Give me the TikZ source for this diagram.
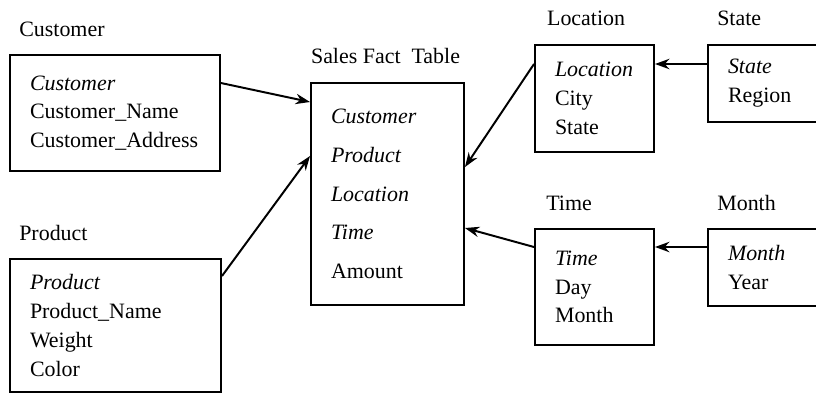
\documentclass[tikz,border=0pt]{standalone}
\usepackage{fontspec}
\setmainfont{Liberation Serif}
\usetikzlibrary{arrows.meta,calc}

\begin{document}
\begin{tikzpicture}[font=\fontsize{15.6}{20.5}\selectfont,
    tbl/.style={draw, line width=1.4pt, inner xsep=0.5cm, inner ysep=0pt, align=left},
    ttl/.style={anchor=base west, inner sep=0pt},
    lnk/.style={-{Stealth[length=3.6mm,width=2.6mm]}, line width=1.4pt}]
  \useasboundingbox (0,0) rectangle (20.4,-9.825);

  % fact table
  \node[tbl, text width=2.825cm, minimum height=5.55cm, font=\fontsize{15.6}{27.6}\selectfont] (fact) at (9.6875,-4.85)
    {\textit{Customer}\\\textit{Product}\\\textit{Location}\\\textit{Time}\\Amount};
  \node[anchor=base, inner sep=0pt] (factT) at ($(fact.north)+(-0.05,0.475)$) {Sales Fact\ \ Table};

  % dimension tables
  \node[tbl, text width=4.25cm, minimum height=2.9cm] (cust) at (2.875,-2.825)
    {\textit{Customer}\\Customer\_Name\\Customer\_Address};
  \node[tbl, text width=4.275cm, minimum height=3.325cm] (prod) at (2.8875,-8.1375)
    {\textit{Product}\\Product\_Name\\Weight\\Color};
  \node[tbl, text width=1.975cm, minimum height=2.675cm] (loc) at (14.8625,-2.4625)
    {\textit{Location}\\City\\State};
  \node[tbl, text width=1.975cm, minimum height=2.9cm] (time) at (14.8625,-7.175)
    {\textit{Time}\\Day\\Month};
  \node[tbl, text width=2.05cm, minimum height=1.925cm] (state) at (19.225,-2.0875)
    {\textit{State}\\Region};
  \node[tbl, text width=2.05cm, minimum height=1.925cm] (month) at (19.225,-6.6875)
    {\textit{Month}\\Year};

  % titles
  \node[ttl] (custT) at ($(cust.north west)+(0.25,0.45)$) {Customer};
  \node[ttl] (prodT) at ($(prod.north west)+(0.25,0.43)$) {Product};
  \node[ttl] (locT) at ($(loc.north west)+(0.32,0.475)$) {Location};
  \node[ttl] (stateT) at ($(state.north west)+(0.25,0.475)$) {State};
  \node[ttl] (timeT) at ($(time.north west)+(0.3,0.45)$) {Time};
  \node[ttl] (monthT) at ($(month.north west)+(0.25,0.45)$) {Month};

  % links
  \draw[lnk] ([yshift=-0.725cm]cust.north east) -- ([yshift=-0.5cm]fact.north west);
  \draw[lnk] ([yshift=-0.45cm]prod.north east) -- ([yshift=-1.85cm]fact.north west);
  \draw[lnk] ([yshift=-0.5cm]loc.north west) -- ([yshift=-2.125cm]fact.north east);
  \draw[lnk] ([yshift=-0.475cm]time.north west) -- ([yshift=-3.65cm]fact.north east);
  \draw[lnk] ([yshift=-0.5cm]state.north west) -- ([yshift=-0.5cm]loc.north east);
  \draw[lnk] ([yshift=-0.475cm]month.north west) -- ([yshift=-0.475cm]time.north east);
\end{tikzpicture}
\end{document}
